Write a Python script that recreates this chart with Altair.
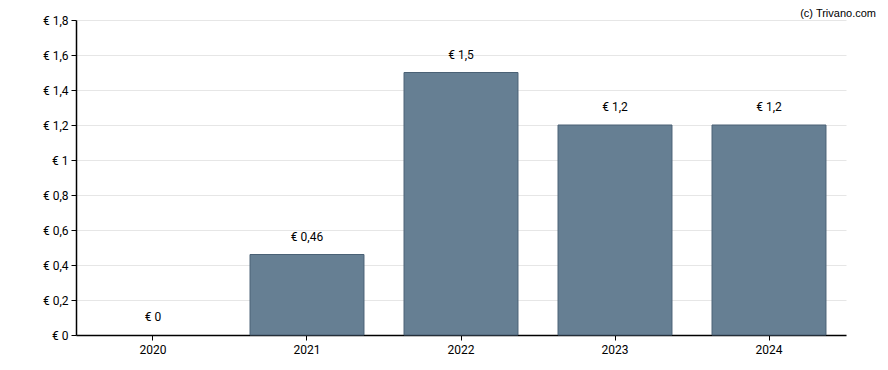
import altair as alt
import pandas as pd

years = ["2020", "2021", "2022", "2023", "2024"]
values = [0.0, 0.46, 1.5, 1.2, 1.2]
labels = ["€ 0", "€ 0,46", "€ 1,5", "€ 1,2", "€ 1,2"]
y_ticks = [0, 0.2, 0.4, 0.6, 0.8, 1.0, 1.2, 1.4, 1.6, 1.8]

df = pd.DataFrame({"year": years, "value": values, "label": labels})

FONT = "Roboto"

x = alt.X("year:N", title=None, sort=years,
          scale=alt.Scale(paddingInner=0.26, paddingOuter=0.13),
          axis=alt.Axis(labelAngle=0, domainColor="#000000", tickColor="#000000",
                        tickSize=5, labelPadding=4, labelFontSize=12, labelFont=FONT,
                        labelColor="#000000", grid=False))
y = alt.Y("value:Q", title=None,
          scale=alt.Scale(domain=[0, 1.8], nice=False),
          axis=alt.Axis(values=y_ticks, domainColor="#000000", tickColor="#000000",
                        tickSize=5, labelPadding=3, labelFontSize=12, labelFont=FONT,
                        labelColor="#000000", gridColor="#e6e6e6", labelOverlap=False,
                        labelExpr="'€ ' + replace(format(datum.value, '.1~f'), '.', ',')"))

base = alt.Chart(df)

bars = base.transform_filter("datum.value > 0").mark_bar(
    color="#667f93", stroke="#4a6175", strokeWidth=1).encode(x=x, y=y)

text = base.mark_text(baseline="middle", dy=-18, fontSize=12, font=FONT,
                      color="#000000").encode(x=x, y=y, text="label:N")

credit_df = pd.DataFrame({"t": ["(c) Trivano.com"]})
credit = alt.Chart(credit_df).mark_text(align="right", baseline="middle", fontSize=11,
                                        font="Liberation Sans", color="#000000").encode(
    x=alt.value(800), y=alt.value(-6), text="t:N")

chart = alt.layer(bars, text, credit).properties(
    width=770, height=315,
    autosize=alt.AutoSizeParams(type="none"),
    padding={"left": 68, "top": 12, "right": 34, "bottom": 27},
).configure_view(stroke=None).configure_axis(domainWidth=1.5)

chart.save("out.html", embed_options={"renderer": "svg", "actions": False})
